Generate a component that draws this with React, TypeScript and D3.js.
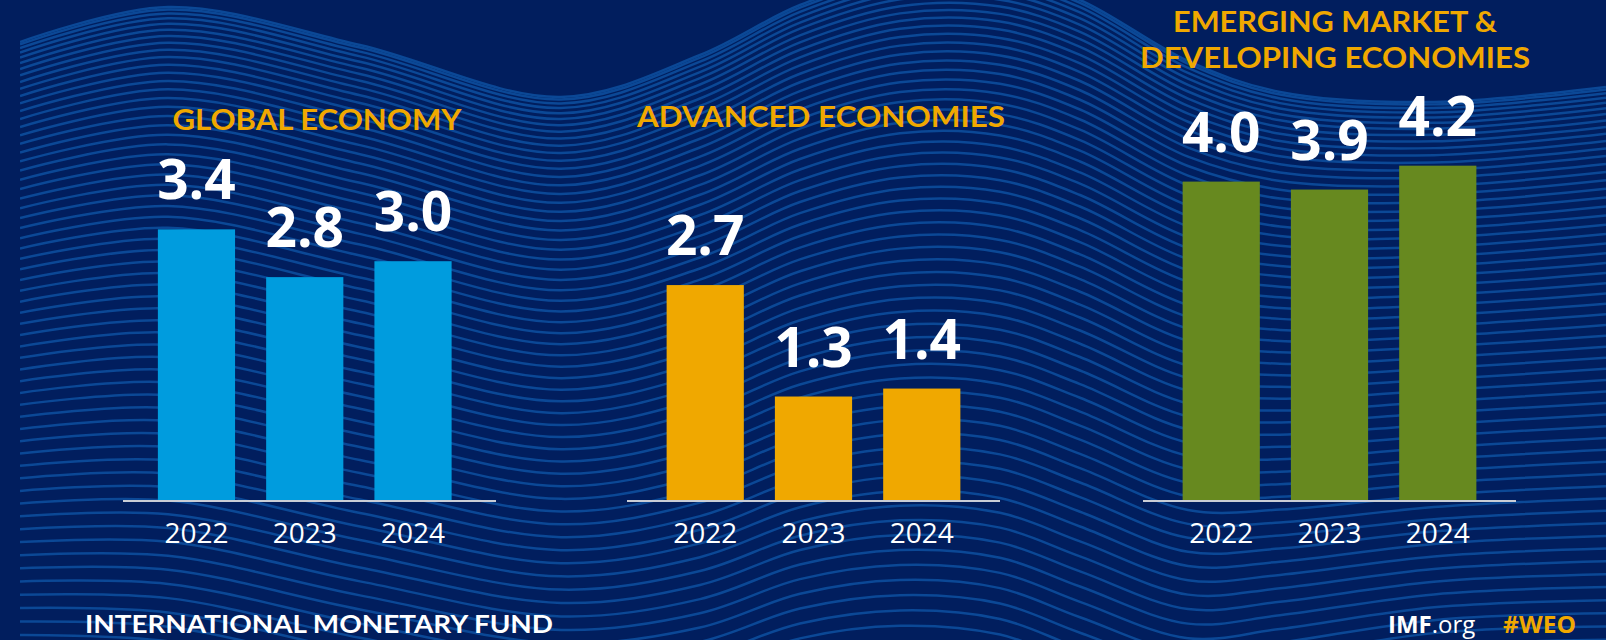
import React from "react";
import * as d3 from "d3";

const years = ["2022", "2023", "2024"];
const globalValues = [3.4, 2.8, 3.0];
const advancedValues = [2.7, 1.3, 1.4];
const emergingValues = [4.0, 3.9, 4.2];
const panelTitles = [["GLOBAL ECONOMY"], ["ADVANCED ECONOMIES"], ["EMERGING MARKET &", "DEVELOPING ECONOMIES"]];
const footerLeft = "INTERNATIONAL MONETARY FUND";

// decorative background wave (control x positions, top and bottom envelopes)
const waveX = [20, 168, 360, 561, 700, 800, 900, 1000, 1080, 1188, 1280, 1434, 1606];
const waveTop = [42, 7, 45, 97, 55, 5, -25, -25, 0, 61, 92, 102, 87];
const waveBottom = [690, 700, 740, 770, 760, 730, 720, 730, 760, 790, 770, 740, 735];

const W = 1606;
const H = 640;
const BG = "#011E5E";
const YELLOW = "#F0A800";

const panels = [
  { values: globalValues, left: 123, align: 0.44, color: "#009CDE", titleX: 317, titleY: [130], titleW: [289] },
  { values: advancedValues, left: 627, align: 0.5, color: "#F0A800", titleX: 821, titleY: [127], titleW: [368] },
  { values: emergingValues, left: 1143, align: 0.5, color: "#67891F", titleX: 1335, titleY: [32, 68], titleW: [324, 390] },
];

const PANEL_W = 373;
const BASE_Y = 500;

export default function App() {
  const y = d3.scaleLinear().domain([0, 5]).range([BASE_Y, BASE_Y - 5 * 79.6]);

  const N = 64;
  const lineGen = d3.line<[number, number]>().x((d) => d[0]).y((d) => d[1]).curve(d3.curveCatmullRom.alpha(0.5));
  const waveLines: string[] = [];
  for (let i = 0; i < N; i++) {
    const t = Math.pow(i / (N - 1), 1.35);
    const pts: [number, number][] = waveX.map((x, k) => [x, waveTop[k] + (waveBottom[k] - waveTop[k]) * t]);
    waveLines.push(lineGen(pts) || "");
  }

  return (
    <svg width={W} height={H} style={{ display: "block", position: "absolute", left: 0, top: 0 }}>
      <rect x={0} y={0} width={W} height={H} fill={BG} />
      <defs>
        <clipPath id="waveClip">
          <rect x={20} y={0} width={W - 20} height={H} />
        </clipPath>
      </defs>
      <g clipPath="url(#waveClip)">
        {waveLines.map((d, i) => (
          <path key={i} d={d} fill="none" stroke="#0B4896" strokeWidth={2.5} />
        ))}
      </g>

      {panels.map((p, pi) => {
        const x = d3
          .scaleBand<string>()
          .domain(years)
          .range([p.left, p.left + PANEL_W])
          .paddingInner(0.287)
          .paddingOuter(0.366)
          .align(p.align);
        return (
          <g key={pi}>
            {panelTitles[pi].map((t, li) => (
              <text
                key={li}
                x={p.titleX}
                y={p.titleY[li]}
                textAnchor="middle"
                fill={YELLOW}
                fontFamily="Lato, 'Open Sans', sans-serif"
                fontWeight={700}
                fontSize={28}
                textLength={p.titleW[li]}
                lengthAdjust="spacingAndGlyphs"
              >
                {t}
              </text>
            ))}
            {p.values.map((v, i) => {
              const bx = x(years[i]) as number;
              return (
                <g key={i}>
                  <rect x={bx} y={y(v)} width={x.bandwidth()} height={y(0) - y(v)} fill={p.color} />
                  <text
                    x={bx + x.bandwidth() / 2}
                    y={y(v) - 30}
                    textAnchor="middle"
                    fill="#FFFFFF"
                    fontFamily="'Open Sans', sans-serif"
                    fontWeight={700}
                    fontSize={55}
                  >
                    {v.toFixed(1)}
                  </text>
                  <text
                    x={bx + x.bandwidth() / 2}
                    y={543}
                    textAnchor="middle"
                    fill="#FFFFFF"
                    fontFamily="'Open Sans', sans-serif"
                    fontWeight={400}
                    fontSize={28}
                  >
                    {years[i]}
                  </text>
                </g>
              );
            })}
            <line x1={p.left} x2={p.left + PANEL_W} y1={BASE_Y + 1} y2={BASE_Y + 1} stroke="#C9CDD6" strokeWidth={2} />
          </g>
        );
      })}

      <text
        x={85}
        y={633}
        fill="#FFFFFF"
        fontFamily="Lato, 'Open Sans', sans-serif"
        fontWeight={700}
        fontSize={25}
        textLength={468}
        lengthAdjust="spacingAndGlyphs"
      >
        {footerLeft}
      </text>
      <text x={1388} y={633} fill="#FFFFFF" fontFamily="'Open Sans', sans-serif" fontSize={24}>
        <tspan fontWeight={700}>IMF</tspan>
        <tspan fontWeight={400}>.org</tspan>
      </text>
      <text
        x={1503}
        y={633}
        fill={YELLOW}
        fontFamily="'Open Sans', sans-serif"
        fontWeight={700}
        fontSize={24}
        textLength={73}
        lengthAdjust="spacingAndGlyphs"
      >
        #WEO
      </text>
    </svg>
  );
}
